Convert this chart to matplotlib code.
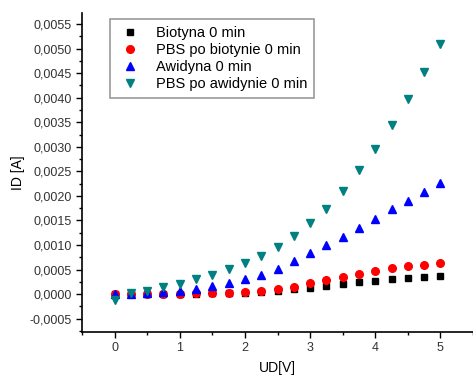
import numpy as np
import matplotlib
matplotlib.use("Agg")
from matplotlib import pyplot as plt
from matplotlib.ticker import MultipleLocator, FuncFormatter

plt.rcParams['font.family'] = ['Liberation Sans', 'DejaVu Sans']

ud = [0, 0.25, 0.5, 0.75, 1.0, 1.25, 1.5, 1.75, 2.0, 2.25, 2.5,
      2.75, 3.0, 3.25, 3.5, 3.75, 4.0, 4.25, 4.5, 4.75, 5.0]

biotyna = [0.0, 0.00001, 0.00001, 0.00001, 0.00001, 0.00001, 0.00002, 0.00002,
           0.00003, 0.00005, 0.00007, 0.00010, 0.00013, 0.00016, 0.00020,
           0.00024, 0.00026, 0.00030, 0.00032, 0.00035, 0.00037]
pbs_biot = [0.0, 0.00001, 0.00001, 0.00001, 0.00001, 0.00002, 0.00002, 0.00003,
            0.00004, 0.00007, 0.00011, 0.00015, 0.00022, 0.00028, 0.00035,
            0.00041, 0.00047, 0.00053, 0.00057, 0.00060, 0.00064]
awidyna = [0.0, 0.00001, 0.00002, 0.00004, 0.00007, 0.00011, 0.00017, 0.00023,
           0.00030, 0.00040, 0.00052, 0.00068, 0.00084, 0.00100, 0.00117,
           0.00134, 0.00153, 0.00173, 0.00190, 0.00208, 0.00227]
pbs_awid = [-0.00012, 0.00002, 0.00007, 0.00014, 0.00021, 0.00030, 0.00039,
            0.00051, 0.00064, 0.00078, 0.00097, 0.00118, 0.00144, 0.00173,
            0.00211, 0.00252, 0.00296, 0.00344, 0.00398, 0.00453, 0.00510]

fig = plt.figure(figsize=(4.73, 3.76), dpi=100)
ax = fig.add_axes([0.1734, 0.117, 0.8266, 0.848])

ax.plot(ud, biotyna, 's', color='black', ms=5, label='Biotyna 0 min')
ax.plot(ud, pbs_biot, 'o', color='red', ms=5.5, label='PBS po biotynie 0 min')
ax.plot(ud, awidyna, '^', color='blue', ms=6, label='Awidyna 0 min')
ax.plot(ud, pbs_awid, 'v', color='#008080', ms=6, label='PBS po awidynie 0 min')

ax.set_xlim(-0.5, 5.5)
ax.set_ylim(-0.00077, 0.00572)
ax.xaxis.set_major_locator(MultipleLocator(1))
ax.xaxis.set_minor_locator(MultipleLocator(0.5))
ax.yaxis.set_major_locator(MultipleLocator(0.0005))
ax.yaxis.set_minor_locator(MultipleLocator(0.00025))
ax.yaxis.set_major_formatter(FuncFormatter(lambda v, p: ('%.4f' % v).replace('.', ',').replace('-0,0000', '0,0000')))
ax.tick_params(which='major', direction='out', length=4, width=1, labelsize=9, colors='black')
ax.tick_params(which='minor', direction='out', length=2.5, width=1)
ax.tick_params(axis='both', labelcolor='#333333')

ax.spines['top'].set_visible(False)
ax.spines['right'].set_visible(False)
ax.spines['left'].set_linewidth(1.2)
ax.spines['bottom'].set_linewidth(1.2)

ax.set_xlabel('UD[V]', fontsize=10, labelpad=5)
ax.set_ylabel('ID [A]', fontsize=10, labelpad=3)

leg = ax.legend(loc='upper left', bbox_to_anchor=(0.072, 0.981), fontsize=10.5,
                frameon=True, fancybox=False, edgecolor='gray',
                handletextpad=0.9, borderpad=0.45, labelspacing=0.22,
                handlelength=1.8, borderaxespad=0)
leg.get_frame().set_linewidth(1.2)

plt.savefig('out.png', dpi=100)
